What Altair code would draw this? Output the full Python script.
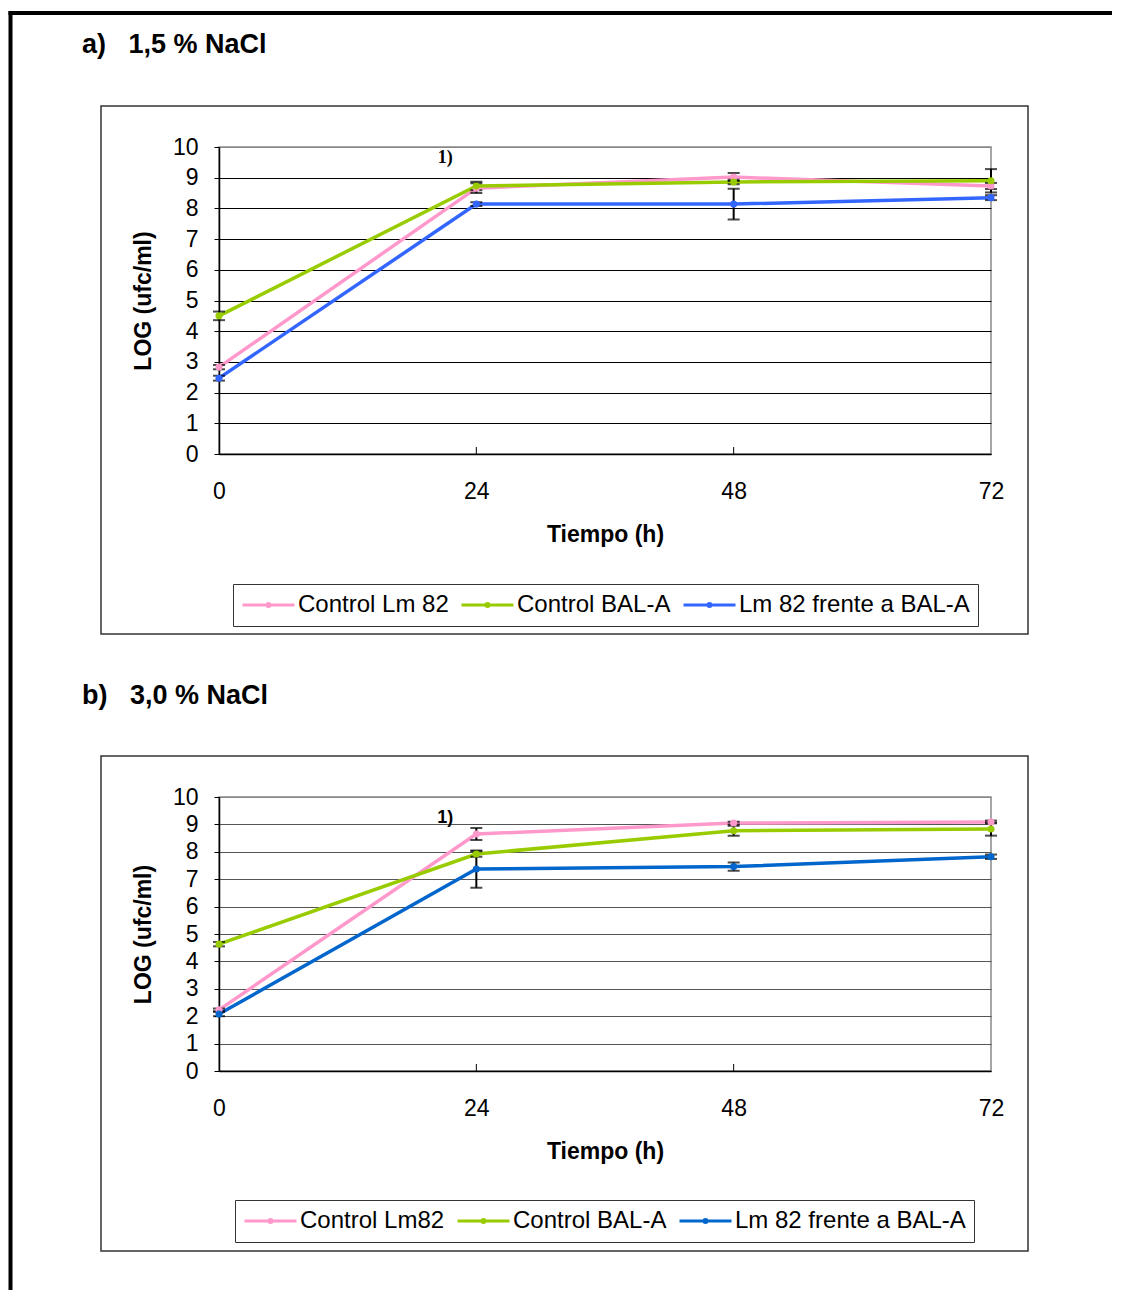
import altair as alt
import pandas as pd

FONT = "Liberation Sans"

hours = [0, 24, 48, 72]
x_ticks = [0, 24, 48, 72]
y_ticks = list(range(0, 11))
inner_ticks = [24, 48]

# ---- panel a) 1,5 % NaCl ----
a_series = ["Control Lm 82", "Control BAL-A", "Lm 82 frente a BAL-A"]
a_colors = ["#FF99CC", "#99CC00", "#3366FF"]
a_lm82 = [2.83, 8.66, 9.02, 8.73]
a_lm82_err = [0.07, 0.16, 0.13, 0.10]
a_bal = [4.50, 8.73, 8.86, 8.90]
a_bal_err = [0.14, 0.14, 0.07, 0.38]
a_mix = [2.47, 8.14, 8.14, 8.35]
a_mix_err = [0.08, 0.06, 0.50, 0.08]

# ---- panel b) 3,0 % NaCl ----
b_series = ["Control Lm82", "Control BAL-A", "Lm 82 frente a BAL-A"]
b_colors = ["#FF99CC", "#99CC00", "#0066CC"]
b_lm82 = [2.23, 8.65, 9.05, 9.09]
b_lm82_err = [0.05, 0.22, 0.05, 0.05]
b_bal = [4.63, 7.92, 8.77, 8.83]
b_bal_err = [0.08, 0.10, 0.18, 0.24]
b_mix = [2.08, 7.37, 7.46, 7.82]
b_mix_err = [0.08, 0.68, 0.15, 0.08]

LEGEND_PATH = ("M-1,0L1,0M-0.06,0A0.06,0.06,0,1,0,0.06,0"
               "A0.06,0.06,0,1,0,-0.06,0")


def panel(series, colors, values, errors, height, grid_color, title, title_y,
          box_bottom, legend_x, legend_y, note_t, note_v, note_font, frame):
    rows = []
    for s, vals, errs in zip(series, values, errors):
        for t, v, e in zip(hours, vals, errs):
            rows.append({"t": t, "v": v, "lo": v - e, "hi": v + e, "serie": s})
    df = pd.DataFrame(rows)

    xs = alt.Scale(domain=[0, 72], nice=False, zero=False)
    ys = alt.Scale(domain=[0, 10], nice=False)
    x_axis = alt.Axis(values=x_ticks, title="Tiempo (h)", ticks=False, tickSize=0,
                      labelPadding=26, titlePadding=20, grid=False,
                      domainColor="black", domainWidth=1.5, labelFlush=False,
                      labelFontSize=23, titleFontSize=23, titleFontWeight="bold",
                      labelColor="black", titleColor="black",
                      labelFont=FONT, titleFont=FONT)
    y_axis = alt.Axis(values=y_ticks, title="LOG (ufc/ml)", tickSize=5,
                      tickColor="black", tickWidth=1, labelPadding=16,
                      titlePadding=17, grid=True,
                      gridColor={"condition": {"test": "datum.value === 10",
                                               "value": "#888888"},
                                 "value": grid_color},
                      gridWidth=1, domainColor="black", domainWidth=1.5,
                      labelFlush=False, labelFontSize=23, titleFontSize=23,
                      titleFontWeight="bold", labelColor="black",
                      titleColor="black", labelFont=FONT, titleFont=FONT)

    def X():
        return alt.X("t:Q", scale=xs, axis=x_axis)

    def Y(field):
        return alt.Y(f"{field}:Q", scale=ys, axis=y_axis)

    cscale = alt.Scale(domain=series, range=colors)
    legend = alt.Legend(title=None, orient="none", legendX=legend_x,
                        legendY=legend_y, direction="horizontal",
                        symbolType=LEGEND_PATH, symbolSize=2704,
                        symbolStrokeWidth=3, clipHeight=26, labelFontSize=24,
                        labelFont=FONT, labelColor="black", labelLimit=400,
                        labelOffset=2, columnPadding=11, padding=8,
                        strokeColor="#333333", fillColor="white")

    one = pd.DataFrame({"k": [0]})
    layers = []
    layers.append(
        alt.Chart(one).mark_rect(fillOpacity=0, stroke="#333333", strokeWidth=1.5)
        .encode(x=alt.value(-118), x2=alt.value(809), y=alt.value(-41),
                y2=alt.value(box_bottom)))
    if frame:
        layers.append(
            alt.Chart(one).mark_rule(color="black", strokeWidth=4)
            .encode(x=alt.value(-208.5), y=alt.value(-136), y2=alt.value(1143)))
        layers.append(
            alt.Chart(one).mark_rule(color="black", strokeWidth=4)
            .encode(x=alt.value(-210.5), x2=alt.value(893), y=alt.value(-134)))
    layers.append(
        alt.Chart(pd.DataFrame({"label": [title]}))
        .mark_text(align="left", baseline="middle", fontSize=27,
                   fontWeight="bold", font=FONT, color="black")
        .encode(text="label:N", x=alt.value(-137), y=alt.value(title_y)))

    base = alt.Chart(df)
    layers.append(
        base.mark_line(strokeWidth=3.5)
        .encode(x=X(), y=Y("v"),
                color=alt.Color("serie:N", scale=cscale, legend=legend)))
    layers.append(
        base.mark_rule(color="black", strokeWidth=2)
        .encode(x=X(), y=Y("lo"), y2="hi:Q"))
    layers.append(
        base.mark_tick(orient="horizontal", size=12, thickness=2, color="black")
        .encode(x=X(), y=Y("lo")))
    layers.append(
        base.mark_tick(orient="horizontal", size=12, thickness=2, color="black")
        .encode(x=X(), y=Y("hi")))
    layers.append(
        base.mark_circle(size=50, opacity=1)
        .encode(x=X(), y=Y("v"),
                color=alt.Color("serie:N", scale=cscale, legend=None)))
    layers.append(
        alt.Chart(pd.DataFrame({"t": inner_ticks}))
        .mark_rule(color="black", strokeWidth=1)
        .encode(x=X(), y=alt.value(height), y2=alt.value(height - 7)))
    layers.append(
        alt.Chart(pd.DataFrame({"t": [note_t], "v": [note_v], "label": ["1)"]}))
        .mark_text(fontSize=18, fontWeight="bold", font=note_font, color="black")
        .encode(x=X(), y=Y("v"), text="label:N"))

    return alt.layer(*layers).properties(width=772, height=height)


pa = panel(a_series, a_colors, [a_lm82, a_bal, a_mix],
           [a_lm82_err, a_bal_err, a_mix_err], 307, "black",
           "a)\u00a0\u00a0\u00a01,5 % NaCl", -102, 487, 14, 437,
           21.1, 9.64, "Liberation Serif", True)
pb = panel(b_series, b_colors, [b_lm82, b_bal, b_mix],
           [b_lm82_err, b_bal_err, b_mix_err], 274, "#555555",
           "b)\u00a0\u00a0\u00a03,0 % NaCl", -101, 454, 16, 403,
           21.1, 9.22, FONT, False)

chart = (
    alt.vconcat(pa, pb, spacing=343, bounds="flush")
    .resolve_scale(color="independent")
    .properties(padding={"left": -3, "top": 0, "right": 0, "bottom": 0},
                background="white")
    .configure(font=FONT)
    .configure_view(stroke="#888888", strokeWidth=1.5)
)

chart.save("out.html", embed_options={"renderer": "svg", "actions": False})
